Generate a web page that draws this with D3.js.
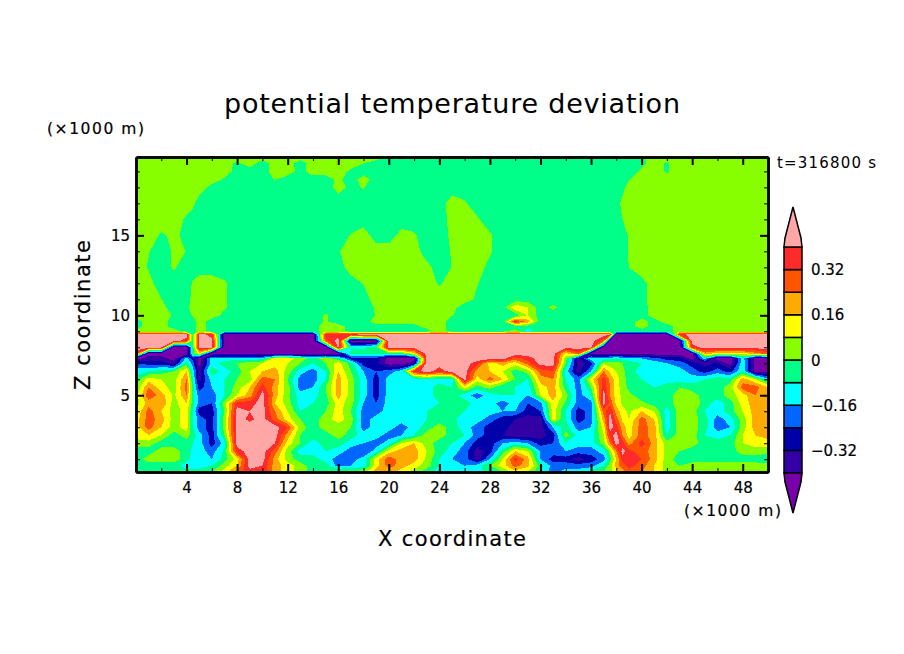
<!DOCTYPE html>
<html>
<head>
<meta charset="utf-8">
<script src="https://cdn.jsdelivr.net/npm/d3@7"></script>
<style>
    body { margin: 0; background: #fff; }
    svg { display: block; }
    text { font-family: "DejaVu Sans", sans-serif; fill: #000; }
</style>
</head>
<body>
<div id="chart"></div>
<script>
// contour levels and fill colours, values are in 0.01 K
var levels = [-40, -32, -24, -16, -8, 0, 8, 16, 24, 32, 40];
var colors = ["#7800aa", "#3300a6", "#0000aa", "#0066ff", "#00ffff", "#00ff88",
    "#88ff00", "#ffff00", "#ffaa00", "#ff5500", "#ff2a2a", "#ffa6a6"];
var barLabels = [0.32, 0.16, 0, -0.16, -0.32];

var xMajor = [4, 8, 12, 16, 20, 24, 28, 32, 36, 40, 44, 48];
var xMinor = [2, 6, 10, 14, 18, 22, 26, 30, 34, 38, 42, 46];
var zMajor = [5, 10, 15];
var zMinor = [1, 2, 3, 4, 6, 7, 8, 9, 11, 12, 13, 14, 16, 17, 18, 19];

// x (km) of every column, with extra columns where the field is narrow
var xCols = [0, 1, 2, 3, 4, 4.5, 5, 6, 7, 8, 9, 10, 11, 12, 13, 14, 15, 16, 17, 18, 19, 20, 21, 22, 23, 24, 25,
    26, 27, 28, 29, 30, 31, 32, 33, 34, 35, 36, 37, 37.5, 38, 38.5, 39, 40, 41, 42, 43, 44, 45, 46, 47, 48, 49, 50];
// height (km) of every row
var zRows = [0.2, 0.6, 1, 1.5, 2, 2.5, 3, 3.5, 4, 4.5, 5, 5.5, 6, 6.5, 7, 7.3, 7.6, 8, 8.4, 8.8,
    9, 9.3, 9.6, 10, 10.5, 11, 12, 13, 14, 15, 16, 17, 18, 18.5, 19, 19.5, 19.9];

var row_z0_2 = [-4,-4,-4,-4,-4,-4,-4,0,12,28,36,38,20,12,4,-4,-4,4,4,4,20,20,12,4,-4,-12,-12,
    -12,-12,-4,0,12,8,-8,-20,-12,-12,-4,0,6,12,20,28,24,16,4,4,4,4,4,4,4,4,4];
var row_z0_6 = [-4,-4,-4,-4,-12,-12,-12,-8,4,16,44,40,20,12,4,-4,-4,-20,-16,-12,12,28,20,12,4,-8,-12,
    -16,-12,0,12,28,18,-4,-20,-20,-20,-20,-8,4,20,28,36,28,16,4,0,4,4,4,4,4,4,4];
var row_z1_0 = [-4,4,4,4,-4,-12,-12,-16,-4,12,44,44,20,4,-4,-4,-12,-20,-20,-12,12,30,20,20,6,-8,-16,
    -20,-36,-16,8,36,20,-16,-28,-28,-36,-28,-20,-4,16,36,38,32,20,4,-4,-4,-4,-4,-4,-4,-4,-8];
var row_z1_5 = [-4,-4,4,4,-4,-10,-12,-20,-6,36,44,44,28,4,-12,-12,-8,-12,-20,-24,-12,12,20,20,8,-4,-12,
    -20,-36,-28,-4,16,8,-16,-20,-16,-20,-20,-12,4,24,44,34,28,20,4,0,-4,-4,-4,-4,4,4,4];
var row_z2_0 = [4,4,-4,-4,-4,-8,-12,-28,-12,44,44,44,40,12,0,-12,-4,-4,-12,-16,-20,-12,8,16,4,-4,-8,
    -16,-28,-28,-16,-12,-16,-28,-24,-8,-12,-12,4,24,44,36,20,36,20,4,0,4,-4,-4,-4,8,12,12];
var row_z2_5 = [12,16,8,-4,4,-4,-12,-28,0,44,44,44,44,20,0,-4,-4,4,-4,-12,-12,-20,-16,-8,4,4,-4,
    -8,-20,-28,-32,-36,-36,-36,-28,4,-12,-12,8,36,44,24,12,28,20,-8,4,4,-8,-12,-8,8,16,20];
var row_z3_0 = [12,28,16,4,12,-8,-20,-28,4,44,44,44,44,32,4,-4,4,4,0,-20,-12,-12,-20,-12,-4,4,-4,
    -12,-20,-28,-28,-36,-36,-36,-16,-4,-20,-16,12,44,36,20,12,28,20,-12,4,4,-4,-20,-16,4,20,20];
var row_z3_5 = [12,28,20,4,12,-8,-20,-28,4,44,38,44,28,12,0,-4,4,12,4,-20,-12,-12,-12,-12,-8,-4,-4,
    -16,-12,-20,-28,-32,-36,-36,12,-8,-28,-20,20,44,28,14,8,28,16,-12,4,4,-4,-20,-12,4,20,20];
var row_z4_0 = [8,28,16,4,12,-8,-28,-28,0,44,40,44,24,8,-8,-4,0,12,0,-20,-20,-12,-12,-12,-8,-4,-4,
    -8,-16,-12,-16,-16,-28,-24,12,-8,-28,-20,28,40,20,12,6,16,8,-12,4,4,-8,-12,-4,8,20,20];
var row_z4_5 = [4,20,24,4,16,-4,-20,-24,4,36,36,44,16,4,-12,-8,-4,12,4,-16,-24,-12,-12,-12,-12,-8,-4,
    -4,-12,-12,-20,-12,-24,-20,14,-2,-20,-20,44,30,14,6,4,2,-4,-4,4,8,-4,-12,-4,12,20,20];
var row_z5_0 = [4,30,20,6,24,-4,-20,-20,-8,8,20,44,20,2,-12,-12,-2,20,4,-12,-28,-12,-12,-12,-12,-4,-4,
    -12,-20,-12,-8,-8,-16,8,20,4,-20,-8,44,24,12,6,2,-4,-4,-4,4,4,-4,-4,4,12,24,20];
var row_z5_5 = [0,24,12,4,28,-4,-28,-16,-8,4,16,36,20,4,-20,-16,0,20,4,-12,-28,-12,-12,-12,-12,-4,-8,
    12,-4,4,-8,-8,-12,12,20,-4,-20,0,38,24,12,4,-2,-4,-8,-4,0,-4,-4,-4,4,28,28,16];
var row_z6_0 = [-4,12,8,4,24,-8,-36,-12,-8,0,4,28,24,0,-20,-20,-8,20,4,-12,-28,-12,-12,-12,-8,-12,-12,
    44,12,28,16,0,-8,20,24,-8,-20,12,36,22,12,4,-4,-8,-12,-12,-12,-12,-8,-4,-4,20,8,-12];
var row_z6_5 = [-12,-8,-4,0,16,-12,-36,-2,-12,-4,8,16,20,4,-12,-20,-8,16,0,-16,-24,-20,-12,36,44,36,44,
    44,20,16,8,-4,4,28,32,-12,-36,-16,24,14,8,2,-4,-12,-12,-12,-12,-20,-28,-20,-28,-8,-44,-44];
var row_z7_0 = [-24,-28,-28,-36,-4,-20,-44,-12,-4,0,4,8,12,8,0,-8,0,12,-4,-28,-30,-44,-44,-36,44,44,44,
    44,36,12,20,12,28,44,44,0,-36,-28,6,4,4,0,-4,-8,-12,-16,-20,-28,-36,-30,-44,-10,-44,-44];
var row_z7_3 = [-44,-36,-36,-44,-12,-28,-44,-12,-12,-12,-12,-12,12,12,4,-4,4,-4,-28,-28,-28,-44,-44,-44,44,44,44,
    44,44,44,44,28,36,44,44,4,-36,-10,-12,-10,-8,-10,-12,-16,-20,-28,-28,-44,-12,-44,-44,-12,-44,-44];
var row_z7_6 = [36,-44,-44,-44,-44,-4,12,-44,-44,-44,-44,-44,-44,-44,-44,-44,-44,-44,-4,-4,-4,-4,-4,12,44,44,44,
    44,44,44,44,44,44,44,44,12,28,-44,-44,-44,-44,-44,-44,-44,-44,-44,-44,-44,20,12,12,12,20,28];
var row_z8_0 = [44,44,44,-44,-44,-4,44,44,-44,-44,-44,-44,-44,-44,-44,-44,-44,44,-10,-10,-2,44,44,44,44,44,44,
    44,44,44,44,44,44,44,44,44,44,44,-44,-44,-44,-44,-44,-44,-44,-44,-44,36,44,44,44,44,44,44];
var row_z8_4 = [44,44,44,44,36,-4,44,44,-44,-44,-44,-44,-44,-44,-44,-44,28,44,-44,-44,-44,44,44,44,44,44,44,
    44,44,44,44,44,44,44,44,44,44,44,28,-44,-44,-44,-44,-44,-44,-44,-44,44,44,44,44,44,44,44];
var row_z8_8 = [44,44,44,44,44,-4,44,36,-44,-44,-44,-44,-44,-44,-44,-44,36,36,36,44,44,44,44,44,44,44,44,
    44,44,44,44,44,44,44,44,44,44,44,44,44,-44,-44,-44,-44,-44,-44,36,44,44,44,44,44,44,44];
var row_z9_0 = [4,4,4,4,-4,-4,4,-4,-4,-4,-4,-4,-4,-4,-4,-4,4,4,-4,-4,-4,-4,-4,-4,-4,4,-4,
    -4,-4,-4,-4,4,-14,-4,-4,-4,-4,-4,-4,-4,-4,-4,-4,-4,-4,-4,4,4,4,4,4,4,4,4];
var row_z9_3 = [-4,4,4,-4,-4,-4,4,-4,-4,-4,-4,-4,-4,-4,-4,-4,4,4,-4,-4,-4,-4,-4,-4,4,4,-4,
    -4,-4,-4,-4,-4,-4,-4,-4,-4,-4,-4,-4,-4,-4,-4,-4,4,-4,-4,4,4,4,4,4,4,4,4];
var row_z9_6 = [-4,4,4,-4,-4,-4,4,-4,-4,-4,-4,-4,-4,-4,-4,-4,1,-4,-4,-4,4,4,4,4,4,4,-4,
    -4,-4,-4,-4,36,20,-4,-4,-4,-4,-4,-4,-4,-4,-4,-4,4,-4,4,4,4,4,4,4,4,4,4];
var row_z10 = [4,4,4,-1,-4,1,4,4,-2,-4,-4,-4,-4,-4,-4,-4,1,-4,-4,-4,0.44,4,4,4,4,4,0.4,
    -4,-4,-4,-4,-4,8,-4,-4,-4,-4,-4,-4,-4,-4,-4,-4,-4,4,4,4,4,4,4,4,4,4,4];
var row_z10_5 = [4,4,2.7,-4,-2.7,4,4,4,1,-4,-4,-4,-4,-4,-4,-4,-4,-4,-4,-4,1,4,4,4,4,4,2.7,
    -4,-4,-4,-4,14,8,-4,2,-4,-4,-4,-4,-4,-4,-4,-4,-4,4,4,4,4,4,4,4,4,4,4];
var row_z11 = [4,4,0.2,-4,-4,2.7,4,4,1,-4,-4,-4,-4,-4,-4,-4,-4,-4,-4,-4,4,4,4,4,4,4,4,
    4,-1.7,-4,-4,-4,-4,-4,-4,-4,-4,-4,-4,-4,-4,-4,-4,-2.7,4,4,4,4,4,4,4,4,4,4];
var row_z12 = [4,2.7,-4,-4,-4,1,4,4,1,-4,-4,-4,-4,-4,-4,-4,-4,-4,-4,0.44,4,4,4,4,4,-1,4,
    4,0.4,-4,-4,-4,-4,-4,-4,-4,-4,-4,-4,-4,-4,-4,-4,-2.7,4,4,4,4,4,4,4,4,4,4];
var row_z13 = [4,-0.7,-4,1,-4,-4,-4,-4,-4,-4,-4,-4,-4,-4,-4,-4,-4,-4,4,4,4,4,4,4,2.7,-4,0.2,
    4,4,-2.7,-4,-4,-4,-4,-4,-4,-4,-4,-4,-4,-4,-4,0.1,4,4,4,4,4,4,4,4,4,4,4];
var row_z14 = [4,0.44,-4,1,-0.1,-4,-4,-4,-4,-4,-4,-4,-4,-4,-4,-4,-4,-0.7,4,4,4,4,4,4,-4,-4,0.7,
    4,4,1,-4,-4,-4,-4,-4,-4,-4,-4,-4,-4,-4,-4,1,4,4,4,4,4,4,4,4,4,4,4];
var row_z15 = [4,4,-1,1.5,-2,-4,-4,-4,-4,-4,-4,-4,-4,-4,-4,-4,-4,-4,0.44,4,-4,-4,2.7,1,-4,-4,1.7,
    4,4,1,-4,-4,-4,-4,-4,-4,-4,-4,-4,-4,-4,-4,1,4,4,4,4,4,4,4,4,4,4,4];
var row_z16 = [4,4,4,4,-1.3,-4,-4,-4,-4,-4,-4,-4,-4,-4,-4,-4,-4,-4,-4,-4,-4,-4,-4,-4,-4,-4,2.7,
    4,1,-4,-4,-4,-4,-4,-4,-4,-4,-4,-4,-4,-4,0.1,4,4,4,4,4,4,4,4,4,4,4,4];
var row_z17 = [4,4,4,4,4,2,-4,-4,-4,-4,-4,-4,-4,-4,-4,-4,-4,-4,-4,-4,-4,-4,-4,-4,-4,-4,4,
    1,-4,-4,-4,-4,-4,-4,-4,-4,-4,-4,-4,-4,-4,2.7,4,4,4,4,4,4,4,4,4,4,4,4];
var row_z18 = [4,4,4,4,4,4,4,-2.7,-4,-4,-4,-4,-4,-4,-4,-4,-4,2.7,-1.7,0.5,-4,-4,-4,-4,-4,-4,-4,
    -4,-4,-4,-4,-4,-4,-4,-4,-4,-4,-4,-4,-4,-4,-2.7,4,4,4,4,4,4,4,4,4,4,4,4];
var row_z18_5 = [4,4,4,4,4,4,4,4,-1,-4,-4,-4,0.5,-4,-4,-4,-4,2,-4,4,-4,-4,-4,-4,-4,-4,-4,
    -4,-4,-4,-4,-4,-4,-4,-4,-4,-4,-4,-4,-4,-4,-4,-0.44,4,4,4,4,4,4,4,4,4,4,4];
var row_z19 = [4,4,4,4,4,4,4,4,4,-3,-4,-4,4,4,-2.7,4,4,4,-1.7,-4,-4,-4,-4,-4,-4,-4,-4,
    -4,-4,-4,-4,-4,-4,-4,-4,-4,-4,-4,-4,-4,-4,-4,-4,1.7,4,-1,4,4,4,4,4,4,4,4];
var row_z19_5 = [4,4,4,4,4,4,4,4,4,-1.7,4,-4,4,4,-4,4,4,4,4,0.1,-4,-4,-4,-4,-4,-4,-4,
    -4,-4,-4,-4,-4,-4,-4,-4,-4,-4,-4,-4,-4,-4,-4,-4,-2,4,-1,4,4,4,4,4,4,4,4];
var row_z19_9 = [4,4,4,4,4,4,4,4,4,4,4,4,4,4,4,4,4,4,4,4,4,-0.7,-4,-4,-4,-4,-4,
    -4,-4,-4,-4,-4,-4,-4,-4,-4,-4,-4,-4,-4,-4,-4,-4,-2.7,4,4,4,4,4,4,4,4,4,4];

var grid = [row_z0_2, row_z0_6, row_z1_0, row_z1_5, row_z2_0, row_z2_5, row_z3_0, row_z3_5, row_z4_0, row_z4_5,
    row_z5_0, row_z5_5, row_z6_0, row_z6_5, row_z7_0, row_z7_3, row_z7_6, row_z8_0, row_z8_4, row_z8_8,
    row_z9_0, row_z9_3, row_z9_6, row_z10, row_z10_5, row_z11, row_z12, row_z13, row_z14, row_z15,
    row_z16, row_z17, row_z18, row_z18_5, row_z19, row_z19_5, row_z19_9];

var bad = [];
grid.forEach(function (row, i) {
    if (row.length != xCols.length) bad.push(zRows[i] + ":" + row.length);
});
if (bad.length) throw new Error("bad rows " + bad.join(" "));

function create_contour_chart(wanted_element) {
    var width = 904,
        height = 654;

    var x = d3.scaleLinear().domain([0, 50]).range([136, 768]);
    var y = d3.scaleLinear().domain([0.2, 19.9]).range([472, 157]);
    var colToX = d3.scaleLinear().domain(d3.range(xCols.length)).range(xCols);
    var rowToZ = d3.scaleLinear().domain(d3.range(zRows.length)).range(zRows);

    var svg = d3.select(wanted_element).append("svg")
        .attr("width", width)
        .attr("height", height);

    svg.append("clipPath").attr("id", "frame").append("rect")
        .attr("x", x(0)).attr("y", y(19.9))
        .attr("width", x(50) - x(0)).attr("height", y(0.2) - y(19.9));

    // contour pixels sit at +0.5 of the grid index
    var project = d3.geoTransform({
        point: function (px, py) { this.stream.point(x(colToX(px - 0.5)), y(rowToZ(py - 0.5))); }
    });
    var path = d3.geoPath(project);

    var contours = d3.contours()
        .size([xCols.length, zRows.length])
        .thresholds(levels)(d3.merge(grid));

    var plot = svg.append("g").attr("clip-path", "url(#frame)");
    plot.append("rect")
        .attr("x", x(0)).attr("y", y(19.9))
        .attr("width", x(50) - x(0)).attr("height", y(0.2) - y(19.9))
        .attr("fill", colors[0]);
    plot.selectAll("path")
        .data(contours)
        .enter().append("path")
        .attr("d", path)
        .attr("fill", function (d, i) { return colors[i + 1]; })
        .attr("shape-rendering", "crispEdges");

    // axes, ticks point into the frame on all four sides
    function ticks(axis, values, size, stroke, translate, labelled) {
        var g = svg.append("g")
            .attr("transform", translate)
            .call(axis.tickValues(values).tickSize(size).tickSizeOuter(0)
                .tickFormat(labelled ? d3.format("d") : ""));
        g.selectAll(".tick line").attr("stroke", "#000").attr("stroke-width", stroke);
        g.select(".domain").attr("stroke", "#000").attr("stroke-width", 2.5);
        return g;
    }
    var bottomY = "translate(0," + y(0.2) + ")",
        topY = "translate(0," + y(19.9) + ")",
        leftX = "translate(" + x(0) + ",0)",
        rightX = "translate(" + x(50) + ",0)";

    ticks(d3.axisBottom(x), xMinor, -4, 1, bottomY, false);
    ticks(d3.axisTop(x), xMinor, -4, 1, topY, false);
    ticks(d3.axisLeft(y), zMinor, -4, 1, leftX, false);
    ticks(d3.axisRight(y), zMinor, -4, 1, rightX, false);
    var xLabels = ticks(d3.axisBottom(x), xMajor, -8, 2, bottomY, true);
    ticks(d3.axisTop(x), xMajor, -8, 2, topY, false);
    var zLabels = ticks(d3.axisLeft(y), zMajor, -8, 2, leftX, true);
    ticks(d3.axisRight(y), zMajor, -8, 2, rightX, false);

    xLabels.selectAll("text").attr("y", 10).attr("dy", "0.71em");
    zLabels.selectAll("text").attr("x", -6);
    svg.selectAll(".tick text")
        .style("font-family", '"DejaVu Sans", sans-serif')
        .style("font-size", "15px")
        .attr("fill", "#000")
        .attr("stroke", "#000").attr("stroke-width", 0.2);

    function label(txt, px, py, size, len, stroke, rotate) {
        var t = svg.append("text")
            .attr("x", px).attr("y", py)
            .attr("font-size", size)
            .attr("stroke", "#000").attr("stroke-width", stroke)
            .attr("textLength", len)
            .text(txt);
        if (rotate) t.attr("transform", "rotate(-90," + px + "," + py + ")");
        return t;
    }
    label("potential temperature deviation", 224, 113, 27, 456, 0);
    label("(×1000 m)", 47, 134, 15.5, 97, 0.2);
    label("(×1000 m)", 684, 516, 15.5, 97, 0.2);
    label("X coordinate", 378, 546, 21, 148, 0.2);
    label("Z coordinate", 90, 390, 21, 150, 0.2, true);
    label("t=316800 s", 777, 168, 15, 99, 0);

    // colour bar
    var barX = 784, barW = 18;
    var barY = d3.scaleLinear().domain([-0.4, 0.4]).range([473, 247]);
    var bar = svg.append("g");
    bar.selectAll("rect")
        .data(d3.pairs(levels))
        .enter().append("rect")
        .attr("x", barX)
        .attr("y", function (d) { return barY(d[1] / 100); })
        .attr("width", barW)
        .attr("height", function (d) { return barY(d[0] / 100) - barY(d[1] / 100); })
        .attr("fill", function (d, i) { return colors[i + 1]; })
        .attr("stroke", "#000").attr("stroke-width", 1.5);

    function kite(sign, base, fill) {
        var m = barX + barW / 2;
        var pts = [[barX, base], [barX + 1, base - sign * 9], [m, base - sign * 40],
            [barX + barW - 1, base - sign * 9], [barX + barW, base]];
        bar.append("polygon")
            .attr("points", pts.join(" "))
            .attr("fill", fill)
            .attr("stroke", "#000").attr("stroke-width", 1.5);
    }
    kite(1, barY(0.4), colors[11]);
    kite(-1, barY(-0.4), colors[0]);

    bar.selectAll(".barlabel")
        .data(barLabels)
        .enter().append("text")
        .attr("class", "barlabel")
        .attr("x", 811)
        .attr("y", function (d) { return barY(d) + 5.5; })
        .attr("font-size", 15)
        .attr("stroke", "#000").attr("stroke-width", 0.2)
        .text(function (d) { return d == 0 ? "0" : (d < 0 ? "\u2212" : "") + Math.abs(d).toFixed(2); });
}

create_contour_chart("#chart");
</script>
</body>
</html>
